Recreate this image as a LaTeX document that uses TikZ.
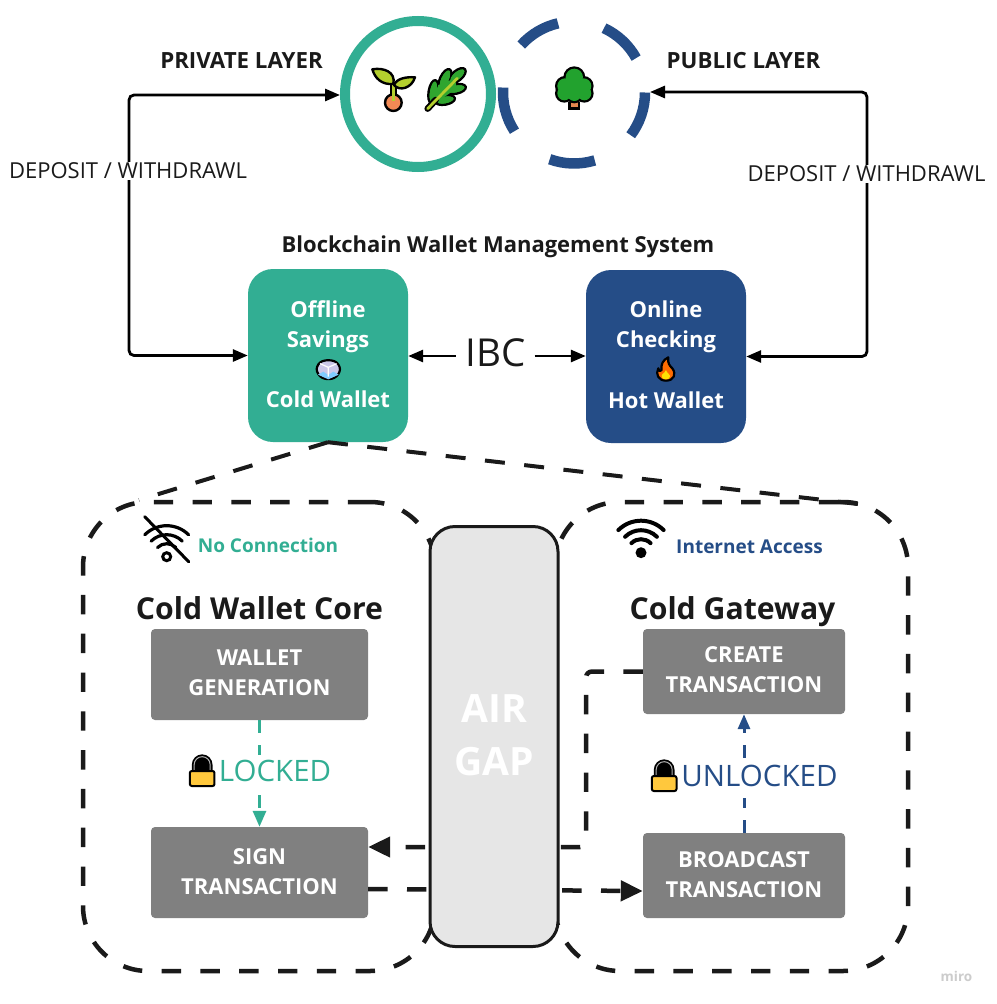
\documentclass[tikz,border=0pt]{standalone}
\usepackage{fontspec}
\setmainfont{Open Sans}
\usetikzlibrary{arrows.meta,calc}
\definecolor{tealc}{HTML}{32AE93}
\definecolor{bluec}{HTML}{254D87}
\definecolor{inkc}{HTML}{1A1A1A}
\definecolor{grayc}{HTML}{808080}
\definecolor{gapc}{HTML}{E6E6E6}
\definecolor{lockc}{HTML}{FFC83D}
\definecolor{sproutc}{HTML}{B4CF2E}
\definecolor{leafc}{HTML}{2FA52F}
\definecolor{treec}{HTML}{22A22E}
\definecolor{seedc}{HTML}{F28A55}
\newcommand\fsz[2]{\fontsize{#1}{#2}\selectfont}
\tikzset{
  wallet/.style={rounded corners=25pt,minimum width=160pt,minimum height=173pt,inner sep=0pt,text=white,align=center,font=\fsz{22}{30}\bfseries},
  graybox/.style={fill=grayc,rounded corners=4pt,inner sep=0pt,text=white,align=center,font=\fsz{22}{30}\bfseries},
  flow/.style={line width=2.8pt,draw=black,rounded corners=5pt},
  blackdash/.style={line width=4.5pt,draw=inkc,dash pattern=on 19.4pt off 19.4pt},
  diagdash/.style={line width=4pt,draw=inkc,dash pattern=on 20pt off 19.5pt},
  colordash/.style={line width=3pt,dash pattern=on 12.5pt off 12.5pt},
  heading/.style={anchor=base,inner sep=0pt,text=inkc,font=\fsz{30.2}{34}\bfseries},
  toplabel/.style={inner sep=0pt,text=inkc,font=\fsz{22.3}{26}\bfseries},
  sidelabel/.style={fill=white,inner sep=1pt,text=inkc,font=\fsz{22}{26}},
  lockedlabel/.style={anchor=base,fill=white,inner sep=0pt,text height=26pt,font=\fsz{29.5}{34}},
  iconline/.style={draw=black,line width=2.4pt,line join=round,line cap=round},
}
\newcommand\lockicon[2]{%
  \begin{scope}[shift={(#1,#2)},x=.3333pt,y=-.3333pt]
    \fill[black] (7,55) -- (7,32) arc[start angle=180,end angle=360,radius=31] -- (69,55) -- cycle;
    \draw[gray!60,line width=1pt] (14,50) -- (14,32) arc[start angle=180,end angle=360,radius=24] -- (62,50);
    \draw[draw=black,line width=2pt,fill=lockc,rounded corners=2pt] (1,51) rectangle (75,96);
  \end{scope}}
\newcommand\wifiarcs[2]{%
  \foreach \r in {#1}{\draw[line width=#2,line cap=round,draw=black] (45:\r pt) arc[start angle=45,end angle=135,radius=\r pt];}}
\begin{document}
\begin{tikzpicture}[x=1pt,y=-1pt]
\useasboundingbox (0,0) rectangle (996,1004);
\fill[white] (0,0) rectangle (996,1004);

% layer circles
\node[circle,draw=tealc,line width=10pt,minimum size=146pt,inner sep=0pt] (private) at (418,94) {};
\node[circle,minimum size=152pt,inner sep=0pt,outer sep=0pt] (public) at (574,92.5) {};
\begin{scope}[shift={(public.center)},x=1pt,y=1pt]
  \foreach \a/\b in {103/138,29/65,-37/0,-110/-73,176/213}{
    \draw[draw=bluec,line width=10.5pt] (\a:71pt) arc[start angle=\a,end angle=\b,radius=71pt];}
\end{scope}

% wallets
\node[wallet,fill=tealc] (cold) at (328,355.5) {\raisebox{2.5pt}{Offline}\\\raisebox{2.5pt}{Savings}\\[30pt]\raisebox{2.5pt}{Cold Wallet}};
\node[wallet,fill=bluec] (hot) at (666,356.5) {\raisebox{4pt}{Online}\\\raisebox{4pt}{Checking}\\[30pt]\raisebox{3.5pt}{Hot Wallet}};
\node[inner sep=9pt,text=inkc,font=\fsz{38.5}{44}] (ibc) at (495.5,353) {IBC};
\coordinate (leftbend) at (129,95);
\coordinate (rightbend) at (867,92);
\draw[flow,{Triangle[length=15pt,width=12pt]}-{Triangle[length=15pt,width=12pt]}] (cold.west) -| (leftbend) -- (leftbend -| private.west);
\draw[flow,{Triangle[length=15pt,width=12pt]}-{Triangle[length=15pt,width=12pt]}] (hot.east) -| (rightbend) -- (rightbend -| public.east);
\draw[line width=2.8pt,{Triangle[length=15pt,width=12pt]}-] (cold.east |- 0,356) -- (ibc.west |- 0,356);
\draw[line width=2.8pt,-{Triangle[length=15pt,width=12pt]}] (ibc.east |- 0,356) -- (hot.west |- 0,356);

\node[toplabel] (privlab) at (241.5,61) {PRIVATE LAYER};
\node[toplabel] (publab) at (743.5,61) {PUBLIC LAYER};
\node[sidelabel] (depl) at (128,171) {DEPOSIT / WITHDRAWL};
\node[sidelabel] (depr) at (866.5,174) {DEPOSIT / WITHDRAWL};
\node[toplabel,font=\fsz{22}{26}\bfseries] (title) at (498,246.5) {Blockchain Wallet Management System};

% dashed frames
\coordinate (leftend) at (139,500);
\coordinate (rightend) at (858,504);
\draw[diagdash] (cold.south) -- (leftend);
\draw[diagdash] (cold.south) -- (rightend);
\draw[blackdash,rounded corners=65pt] (365,502) -- (435,502) -- (435,971) -- (83,971) -- (83,502) -- (365,502);
\draw[blackdash,rounded corners=65pt] (838,502) -- (908,502) -- (908,971) -- (555,971) -- (555,502) -- (838,502);

% process boxes
\node[graybox,minimum width=217pt,minimum height=91pt] (wallet) at (259.5,674.5) {\raisebox{3pt}{WALLET}\\\raisebox{3pt}{GENERATION}};
\node[graybox,minimum width=217pt,minimum height=91pt] (sign) at (259.5,872.5) {\raisebox{1pt}{SIGN}\\\raisebox{1pt}{TRANSACTION}};
\node[graybox,minimum width=202pt,minimum height=85pt] (create) at (744,671.5) {\raisebox{3pt}{CREATE}\\\raisebox{3pt}{TRANSACTION}};
\node[graybox,minimum width=202pt,minimum height=85pt] (broad) at (744,875.5) {\raisebox{1pt}{BROADCAST}\\\raisebox{1pt}{TRANSACTION}};

\draw[colordash,draw=tealc,-{Triangle[length=16pt,width=13pt]}] (wallet.south) -- (sign.north);
\draw[colordash,draw=bluec,-{Triangle[length=15pt,width=12pt]}] (broad.north) -- (create.south);
\node[lockedlabel,text=tealc,text depth=13pt] (locked) at (275,781) {LOCKED};
\node[lockedlabel,text=bluec,text depth=12pt] (unlocked) at (759.5,786) {UNLOCKED};
\lockicon{189.5}{754}
\lockicon{651.5}{759}

\coordinate (elbow) at (586,671.5);
\draw[blackdash,rounded corners=6pt,-{Triangle[length=22pt,width=20pt]}] (create.west) -- (elbow) -- (586,847) -- (sign.east |- 0,847);
\draw[blackdash,-{Triangle[length=22pt,width=20pt]}] (sign.east |- 0,889) -- (broad.west |- 0,891);

% air gap
\node[rounded corners=25pt,draw=inkc,fill=gapc,line width=3pt,minimum width=128pt,minimum height=420pt,inner sep=0pt,text=white,align=center,font=\fsz{39}{53}\bfseries] (gap) at (494,736.5) {\raisebox{-4.5pt}[0pt][0pt]{\parbox{100pt}{\centering AIR\\GAP}}};

% headings
\node[heading] (core) at (259.5,619) {Cold Wallet Core};
\node[heading] (gateway) at (732.5,619) {Cold Gateway};
\node[inner sep=0pt,text=tealc,font=\fsz{19}{22}\bfseries] (noconn) at (268,545) {No Connection};
\node[inner sep=0pt,text=bluec,font=\fsz{19}{22}\bfseries] (inet) at (749.5,547) {Internet Access};
\node[inner sep=0pt,text=black!20,font=\fsz{13.5}{16}\bfseries] (miro) at (956.5,976) {miro};

% wifi icons
\begin{scope}[shift={(166.7,556.7)},x=1pt,y=1pt]
  \wifiarcs{13,22,31}{3.2pt}
  \draw[line width=3pt,fill=white,draw=black] (0,0) circle[radius=4pt];
  \draw[line width=3pt,line cap=round] (-22pt,40pt) -- (22pt,-5pt);
\end{scope}
\begin{scope}[shift={(641,552.7)},x=1pt,y=1pt]
  \wifiarcs{13.5,22.5,32}{4pt}
  \fill[black] (0,0) circle[radius=5.5pt];
\end{scope}

% sprout, leaf, tree
\begin{scope}[shift={(340,10)},x=.3333pt,y=-.3333pt]
  \draw[line width=7pt,black,line cap=round] (160,225) -- (160,270);
  \draw[iconline,fill=seedc] (160,278) circle[radius=25];
  \draw[line width=3pt,sproutc] (160,225) -- (160,272);
  \draw[iconline,fill=sproutc] (97,178) .. controls (130,172) and (168,185) .. (160,222) .. controls (125,225) and (105,205) .. (97,178) -- cycle;
  \draw[iconline,fill=sproutc] (225,202) .. controls (215,235) and (178,245) .. (162,225) .. controls (170,205) and (200,200) .. (225,202) -- cycle;
  \foreach \x/\y/\r/\a/\b in {352/197/40/30/15,315/208/65/33/15,280/245/80/35/14,348/237/12/30/14,315/270/10/30/14}{
    \draw[iconline,fill=leafc] (\x,\y) ellipse[x radius=\a,y radius=\b,rotate=\r];}
  \foreach \x/\y/\r/\a/\b in {352/197/40/26/11,315/208/65/29/11,280/245/80/31/10,348/237/12/26/10,315/270/10/26/10}{
    \fill[leafc] (\x,\y) ellipse[x radius=\a,y radius=\b,rotate=\r];}
  \fill[leafc] (295,225) -- (345,205) -- (350,235) -- (300,270) -- (280,265) -- cycle;
  \draw[line width=6.5pt,black,line cap=round] (263,296) -- (287,270);
  \draw[line width=2.8pt,sproutc,line cap=round] (263,296) -- (352,205);
  % tree
  \fill[black] (685,275) rectangle (721,300);
  \fill[seedc!70!brown] (693,275) rectangle (713,292);
  \foreach \x/\y/\r in {703/202/33,675/228/30,731/228/30,673/250/28,733/250/28,703/252/28}{\fill[black] (\x,\y) circle[radius=\r];}
  \foreach \x/\y/\r in {703/202/26,675/228/23,731/228/23,673/250/21,733/250/21,703/252/21,703/232/30}{\fill[treec] (\x,\y) circle[radius=\r];}
\end{scope}

% ice and flame
\begin{scope}[shift={(240,260)},x=.3333pt,y=-.3333pt]
  \draw[iconline,line width=2.2pt,fill=cyan!15!blue!20!white,rounded corners=6pt] (230,310) -- (265,297) -- (300,310) -- (300,345) -- (265,362) -- (230,345) -- cycle;
  \fill[blue!40!cyan!50!white] (234,344) -- (250,335) -- (265,345) -- (280,335) -- (296,344) -- (265,358) -- cycle;
  \draw[white,line width=1.2pt] (240,311) -- (265,322) -- (290,311) (265,322) -- (265,350);
  \draw[iconline,line width=2.2pt,fill=orange!85!red] (1278,362) .. controls (1255,362) and (1246,342) .. (1255,325) .. controls (1258,335) and (1262,335) .. (1265,330) .. controls (1262,315) and (1268,300) .. (1285,292) .. controls (1282,310) and (1290,318) .. (1297,325) .. controls (1310,342) and (1302,362) .. (1278,362) -- cycle;
  \fill[yellow!85!orange] (1278,358) .. controls (1266,358) and (1262,348) .. (1268,342) .. controls (1272,340) and (1276,335) .. (1278,330) .. controls (1280,338) and (1292,345) .. (1290,350) .. controls (1288,356) and (1284,358) .. (1278,358) -- cycle;
\end{scope}
\end{tikzpicture}
\end{document}
